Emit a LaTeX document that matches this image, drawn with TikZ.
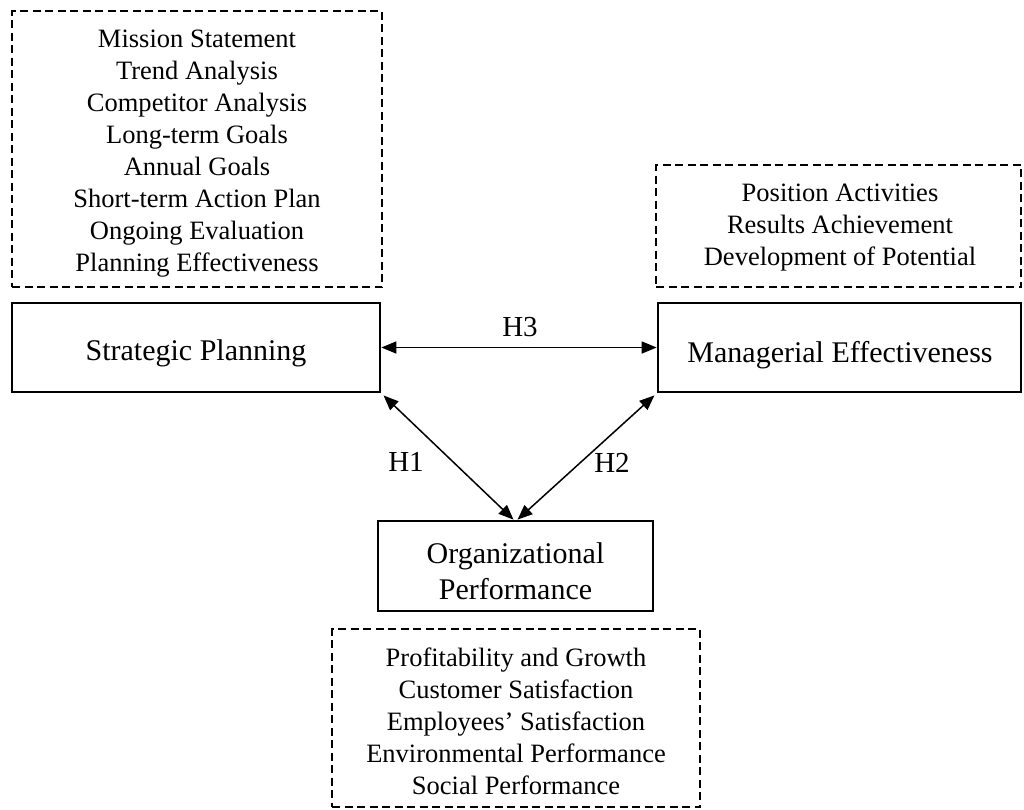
\documentclass[tikz,border=0pt]{standalone}
\usepackage{fontspec}
\setmainfont{Liberation Serif}
\usetikzlibrary{arrows.meta}

\tikzset{
  solidbox/.style={draw, line width=2.7pt, rectangle, inner sep=0pt},
  dashbox/.style={draw, line width=2.5pt, rectangle, inner sep=0pt,
    dash pattern=on 8pt off 4.5pt},
  itemlist/.style={align=center, inner sep=0pt,
    font=\fontsize{26.5}{32}\selectfont},
  mainlbl/.style={inner sep=0pt, font=\fontsize{30}{36}\selectfont, align=center},
  hyplbl/.style={inner sep=0pt, font=\fontsize{29}{34}\selectfont},
  link/.style={line width=1.5pt, {Triangle[length=15pt,width=12pt]}-{Triangle[length=15pt,width=12pt]}}
}

\begin{document}
\begin{tikzpicture}[x=1pt,y=-1pt]
\useasboundingbox (0,0) rectangle (1024,809);

% construct boxes
\node[solidbox, minimum width=368, minimum height=89] (sp) at (196,347.5) {};
\node[solidbox, minimum width=363, minimum height=89] (me) at (839.5,347.5) {};
\node[solidbox, minimum width=275, minimum height=90] (op) at (515.5,566) {};

% indicator boxes
\node[dashbox, minimum width=370, minimum height=276] (spi) at (197,149) {};
\node[dashbox, minimum width=365, minimum height=122] (mei) at (838.5,226) {};
\node[dashbox, minimum width=368, minimum height=178] (opi) at (516,718) {};

% construct names
\node[mainlbl, anchor=base] (spt) at (196,360) {Strategic Planning};
\node[mainlbl, anchor=base] (met) at (840,362) {Managerial Effectiveness};
\node[mainlbl, anchor=north] (opt) at (515.5,542.5) {Organizational\\Performance};

% indicator lists
\node[itemlist, anchor=north] (spl) at (197,30) {Mission Statement\\Trend Analysis\\Competitor Analysis\\Long-term Goals\\Annual Goals\\Short-term Action Plan\\Ongoing Evaluation\\Planning Effectiveness};
\node[itemlist, anchor=north] (mel) at (840,184) {Position Activities\\Results Achievement\\Development of Potential};
\node[itemlist, anchor=north] (opl) at (516,648) {Profitability and Growth\\Customer Satisfaction\\Employees’ Satisfaction\\Environmental Performance\\Social Performance};

% hypothesised relations
\draw[link] (sp.east) -- (me.west);
\draw[link, shorten <=3pt] (sp.south east) -- ([xshift=-2pt]op.north);
\draw[link, shorten <=3pt] (me.south west) -- ([xshift=2pt]op.north);

\node[hyplbl, anchor=base] (h3) at (520,336) {H3};
\node[hyplbl, anchor=base] (h1) at (406,471) {H1};
\node[hyplbl, anchor=base] (h2) at (612,472) {H2};
\end{tikzpicture}
\end{document}
